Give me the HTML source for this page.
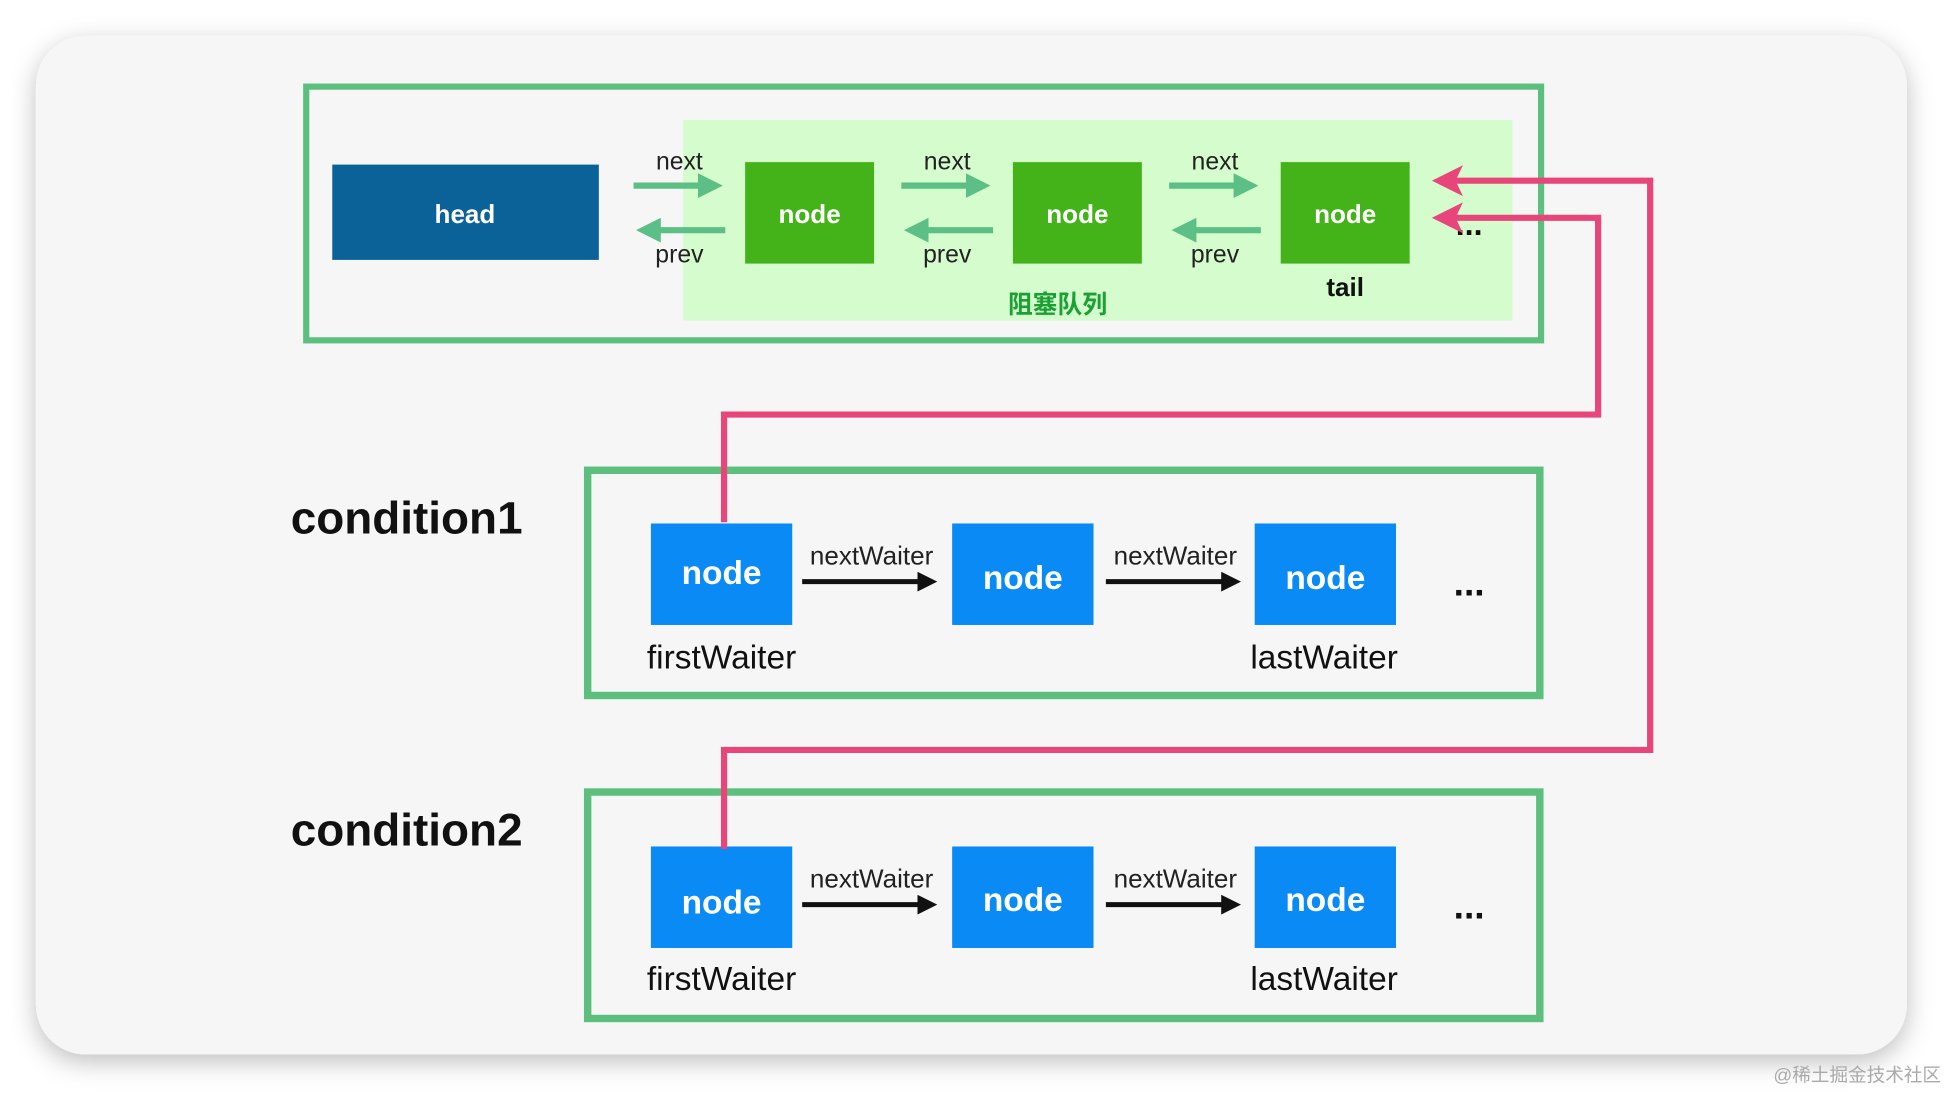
<!DOCTYPE html>
<html><head><meta charset="utf-8"><style>
html,body{margin:0;padding:0;background:#fff;}
svg{display:block;}
text{font-family:"Liberation Sans","Noto Sans CJK SC",sans-serif;}
</style></head><body>
<svg width="1944" height="1094" viewBox="0 0 1568 884" preserveAspectRatio="none" xmlns="http://www.w3.org/2000/svg">
<defs>
<filter id="sh" x="-5%" y="-5%" width="110%" height="115%"><feDropShadow dx="0" dy="6" stdDeviation="10" flood-color="#000" flood-opacity="0.25"/></filter>
<marker id="ga" markerWidth="4" markerHeight="4" refX="3" refY="2" orient="auto" markerUnits="strokeWidth"><path d="M0,0 L4,2 L0,4 z" fill="#5cbf86"/></marker>
<marker id="ka" markerWidth="4" markerHeight="4" refX="3" refY="2" orient="auto" markerUnits="strokeWidth"><path d="M0,0 L4,2 L0,4 z" fill="#111"/></marker>
<marker id="pa" markerWidth="5" markerHeight="5" refX="4" refY="2.5" orient="auto" markerUnits="strokeWidth"><path d="M0,0 L5,2.5 L0,5 L1.2,2.5 z" fill="#e8457a"/></marker>
</defs>
<rect x="29" y="29" width="1509" height="823" rx="40" fill="#f6f6f6" filter="url(#sh)"/>
<!-- top box -->
<rect x="247" y="70" width="996" height="205" fill="none" stroke="#5cbf7e" stroke-width="5"/>
<rect x="551" y="97" width="669" height="162" fill="#d4fccc"/>
<rect x="268" y="133" width="215" height="77" fill="#0a6299"/>
<text x="375" y="180" font-size="21" font-weight="bold" fill="#fff" text-anchor="middle">head</text>
<g fill="#44b31a">
<rect x="601" y="131" width="104" height="82"/><rect x="817" y="131" width="104" height="82"/><rect x="1033" y="131" width="104" height="82"/>
</g>
<g font-size="21" font-weight="bold" fill="#fff" text-anchor="middle">
<text x="653" y="180">node</text><text x="869" y="180">node</text><text x="1085" y="180">node</text>
</g>
<g stroke="#5cbf86" stroke-width="5">
<line x1="511" y1="150" x2="578" y2="150" marker-end="url(#ga)"/>
<line x1="585" y1="186" x2="518" y2="186" marker-end="url(#ga)"/>
<line x1="727" y1="150" x2="794" y2="150" marker-end="url(#ga)"/>
<line x1="801" y1="186" x2="734" y2="186" marker-end="url(#ga)"/>
<line x1="943" y1="150" x2="1010" y2="150" marker-end="url(#ga)"/>
<line x1="1017" y1="186" x2="950" y2="186" marker-end="url(#ga)"/>
</g>
<g font-size="20" fill="#222" text-anchor="middle">
<text x="548" y="137">next</text><text x="764" y="137">next</text><text x="980" y="137">next</text>
<text x="548" y="212">prev</text><text x="764" y="212">prev</text><text x="980" y="212">prev</text>
</g>
<text x="1085" y="239" font-size="21" font-weight="bold" fill="#111" text-anchor="middle">tail</text>
<text x="853" y="253" font-size="20" font-weight="bold" fill="#1aa033" text-anchor="middle">阻塞队列</text>
<text x="1185" y="190" font-size="26" font-weight="bold" fill="#111" text-anchor="middle">...</text>
<!-- condition boxes -->
<rect x="474" y="380" width="768" height="182" fill="none" stroke="#5cbf7e" stroke-width="6"/>
<rect x="474" y="640" width="768" height="183" fill="none" stroke="#5cbf7e" stroke-width="6"/>
<text x="328" y="431" font-size="37" font-weight="bold" fill="#111" text-anchor="middle">condition1</text>
<text x="328" y="683" font-size="37" font-weight="bold" fill="#111" text-anchor="middle">condition2</text>
<g fill="#0a8af5">
<rect x="525" y="423" width="114" height="82"/><rect x="768" y="423" width="114" height="82"/><rect x="1012" y="423" width="114" height="82"/>
<rect x="525" y="684" width="114" height="82"/><rect x="768" y="684" width="114" height="82"/><rect x="1012" y="684" width="114" height="82"/>
</g>
<g font-size="27" font-weight="bold" fill="#fff" text-anchor="middle">
<text x="582" y="472">node</text><text x="825" y="476">node</text><text x="1069" y="476">node</text>
<text x="582" y="738">node</text><text x="825" y="736">node</text><text x="1069" y="736">node</text>
</g>
<g stroke="#111" stroke-width="4">
<line x1="647" y1="470" x2="752" y2="470" marker-end="url(#ka)"/>
<line x1="892" y1="470" x2="997" y2="470" marker-end="url(#ka)"/>
<line x1="647" y1="731" x2="752" y2="731" marker-end="url(#ka)"/>
<line x1="892" y1="731" x2="997" y2="731" marker-end="url(#ka)"/>
</g>
<g font-size="21" fill="#222" text-anchor="middle">
<text x="703" y="456">nextWaiter</text><text x="948" y="456">nextWaiter</text>
<text x="703" y="717">nextWaiter</text><text x="948" y="717">nextWaiter</text>
</g>
<g font-size="27" fill="#111" text-anchor="middle">
<text x="582" y="540">firstWaiter</text><text x="1068" y="540">lastWaiter</text>
<text x="582" y="800">firstWaiter</text><text x="1068" y="800">lastWaiter</text>
</g>
<g font-size="30" font-weight="bold" fill="#111" text-anchor="middle">
<text x="1185" y="481">...</text><text x="1185" y="742">...</text>
</g>
<!-- pink connectors -->
<g fill="none" stroke="#e8457a" stroke-width="5">
<polyline points="584,422 584,335 1289,335 1289,176 1160,176" marker-end="url(#pa)"/>
<polyline points="584,686 584,606 1331,606 1331,146 1160,146" marker-end="url(#pa)"/>
</g>
<text x="1498" y="874" font-size="15" fill="#aaa" text-anchor="middle">@稀土掘金技术社区</text>
</svg>
</body></html>
